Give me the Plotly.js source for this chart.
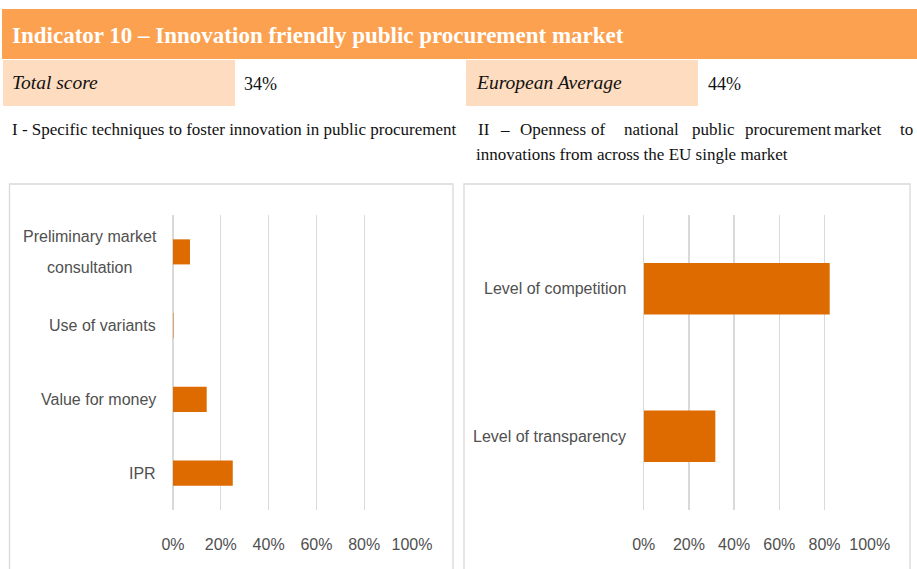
<!DOCTYPE html>
<html>
<head>
<meta charset="utf-8">
<script src="https://cdn.plot.ly/plotly-3.0.1.min.js"></script>
<style>
  body { margin: 0; background: #fff; }
  #chart { width: 917px; height: 569px; }
</style>
</head>
<body>
<div id="chart"></div>
<script>
// Data
var headerTitle = "Indicator 10 – Innovation friendly public procurement market";
var totalScore = "34%";
var euAverage = "44%";
var leftTitle = "I - Specific techniques to foster innovation in public procurement";
var rightTitleWords = ["II", "–", "Openness", "of", "national", "public", "procurement", "market", "to"];
var rightTitleLine2 = "innovations from across the EU single market";

var leftCats = ["Preliminary market<br>consultation", "Use of variants", "Value for money", "IPR"];
var leftVals = [0.071, 0.002, 0.141, 0.25];

var rightCats = ["Level of competition", "Level of transparency"];
var rightVals = [0.823, 0.317];

var xTicks = [0, 0.2, 0.4, 0.6, 0.8, 1.0];

// Style
var W = 917, H = 569;
var orange = "#FCA14F";
var peach = "#FDDCBF";
var barColor = "#DD6B00";
var gridColor = "#D9D9D9";
var labelColor = "#505050";
var serif = "Liberation Serif, DejaVu Serif, serif";
var sans = "Liberation Sans, Arial, sans-serif";

function px(x) { return x / W; }
function py(y) { return 1 - y / H; }

var leftTrace = {
    x: leftVals,
    y: leftCats,
    type: "bar",
    orientation: "h",
    width: 0.34,
    marker: { color: barColor },
    xaxis: "x",
    yaxis: "y"
};

var rightTrace = {
    x: rightVals,
    y: rightCats,
    type: "bar",
    orientation: "h",
    width: 0.35,
    marker: { color: barColor },
    xaxis: "x2",
    yaxis: "y2"
};

var plotTop = 215, plotBottom = 510;
var yDomain = [py(plotBottom), py(plotTop)];

function xAxis(x0, x1, anchor) {
    return {
        domain: [px(x0), px(x1)],
        anchor: anchor,
        range: [0, 1],
        tickvals: xTicks,
        tickformat: ".0%",
        showgrid: true,
        gridcolor: gridColor,
        gridwidth: 1.3,
        zeroline: true,
        zerolinecolor: gridColor,
        zerolinewidth: 1.3,
        showline: false,
        ticks: "",
        ticklabelstandoff: 23,
        tickfont: { family: sans, size: 16, color: labelColor },
        fixedrange: true
    };
}

function yAxis(cats, anchor) {
    return {
        domain: yDomain,
        anchor: anchor,
        type: "category",
        categoryorder: "array",
        categoryarray: cats,
        autorange: "reversed",
        showticklabels: false,
        showgrid: false,
        zeroline: false,
        showline: false,
        ticks: "",
        fixedrange: true
    };
}

var shapes = [
    // header bar
    { type: "rect", xref: "paper", yref: "paper", x0: px(2), x1: px(917), y0: py(59), y1: py(9),
      fillcolor: orange, line: { width: 0 }, layer: "below" },
    // score boxes
    { type: "rect", xref: "paper", yref: "paper", x0: px(3), x1: px(235), y0: py(106), y1: py(60),
      fillcolor: peach, line: { width: 0 }, layer: "below" },
    { type: "rect", xref: "paper", yref: "paper", x0: px(466), x1: px(698), y0: py(106), y1: py(60),
      fillcolor: peach, line: { width: 0 }, layer: "below" },
    // chart frames
    { type: "rect", xref: "paper", yref: "paper", x0: px(9.5), x1: px(453), y0: py(575), y1: py(184),
      fillcolor: "rgba(0,0,0,0)", line: { color: gridColor, width: 1.3 }, layer: "below" },
    { type: "rect", xref: "paper", yref: "paper", x0: px(464), x1: px(910), y0: py(575), y1: py(184),
      fillcolor: "rgba(0,0,0,0)", line: { color: gridColor, width: 1.3 }, layer: "below" }
];

function textNote(text, x, y, size, color) {
    return { text: text, x: px(x), y: py(y), xref: "paper", yref: "paper",
        xanchor: "left", yanchor: "middle", showarrow: false, borderpad: 0,
        font: { family: serif, size: size, color: color || "#111111" } };
}

var annotations = [
    textNote("<b>" + headerTitle + "</b>", 11, 35, 23, "#ffffff"),
    textNote("<i>Total score</i>", 11, 83, 19.5),
    textNote(totalScore, 243, 84, 18),
    textNote("<i>European Average</i>", 475, 83, 19.5),
    textNote(euAverage, 707, 84, 18),
    textNote(leftTitle, 11, 129, 17),
    textNote(rightTitleLine2, 475, 154, 17)
];

// justified first line of the right title
var wordX = [477, 499, 519, 590, 623, 691, 744, 833, 899];
rightTitleWords.forEach(function (w, i) {
    annotations.push(textNote(w, wordX[i], 129, 17));
});

// category labels, centred lines, right aligned to the axis
function addCatLabels(cats, yref, xRight) {
    cats.forEach(function (c) {
        var lines = c.split("<br>");
        lines.forEach(function (line, j) {
            var shift = (lines.length - 1) * 15.8 - j * 31.6;
            annotations.push({ text: line, x: px(xRight), y: c, xref: "paper", yref: yref,
                xanchor: lines.length > 1 ? "center" : "right", yanchor: "middle",
                showarrow: false, yshift: shift, borderpad: 0,
                font: { family: sans, size: 16, color: labelColor } });
        });
    });
}
addCatLabels(leftCats.slice(0, 1), "y", 89.5);
addCatLabels(leftCats.slice(1), "y", 157);
addCatLabels(rightCats, "y2", 627);

var layout = {
    width: W,
    height: H,
    margin: { t: 0, b: 0, l: 0, r: 0 },
    paper_bgcolor: "#ffffff",
    plot_bgcolor: "rgba(0,0,0,0)",
    showlegend: false,
    xaxis: xAxis(173, 412, "y"),
    yaxis: yAxis(leftCats, "x"),
    xaxis2: xAxis(643.7, 869.7, "y2"),
    yaxis2: yAxis(rightCats, "x2"),
    shapes: shapes,
    annotations: annotations
};

Plotly.newPlot("chart", [leftTrace, rightTrace], layout, { displayModeBar: false, staticPlot: true });
</script>
</body>
</html>
